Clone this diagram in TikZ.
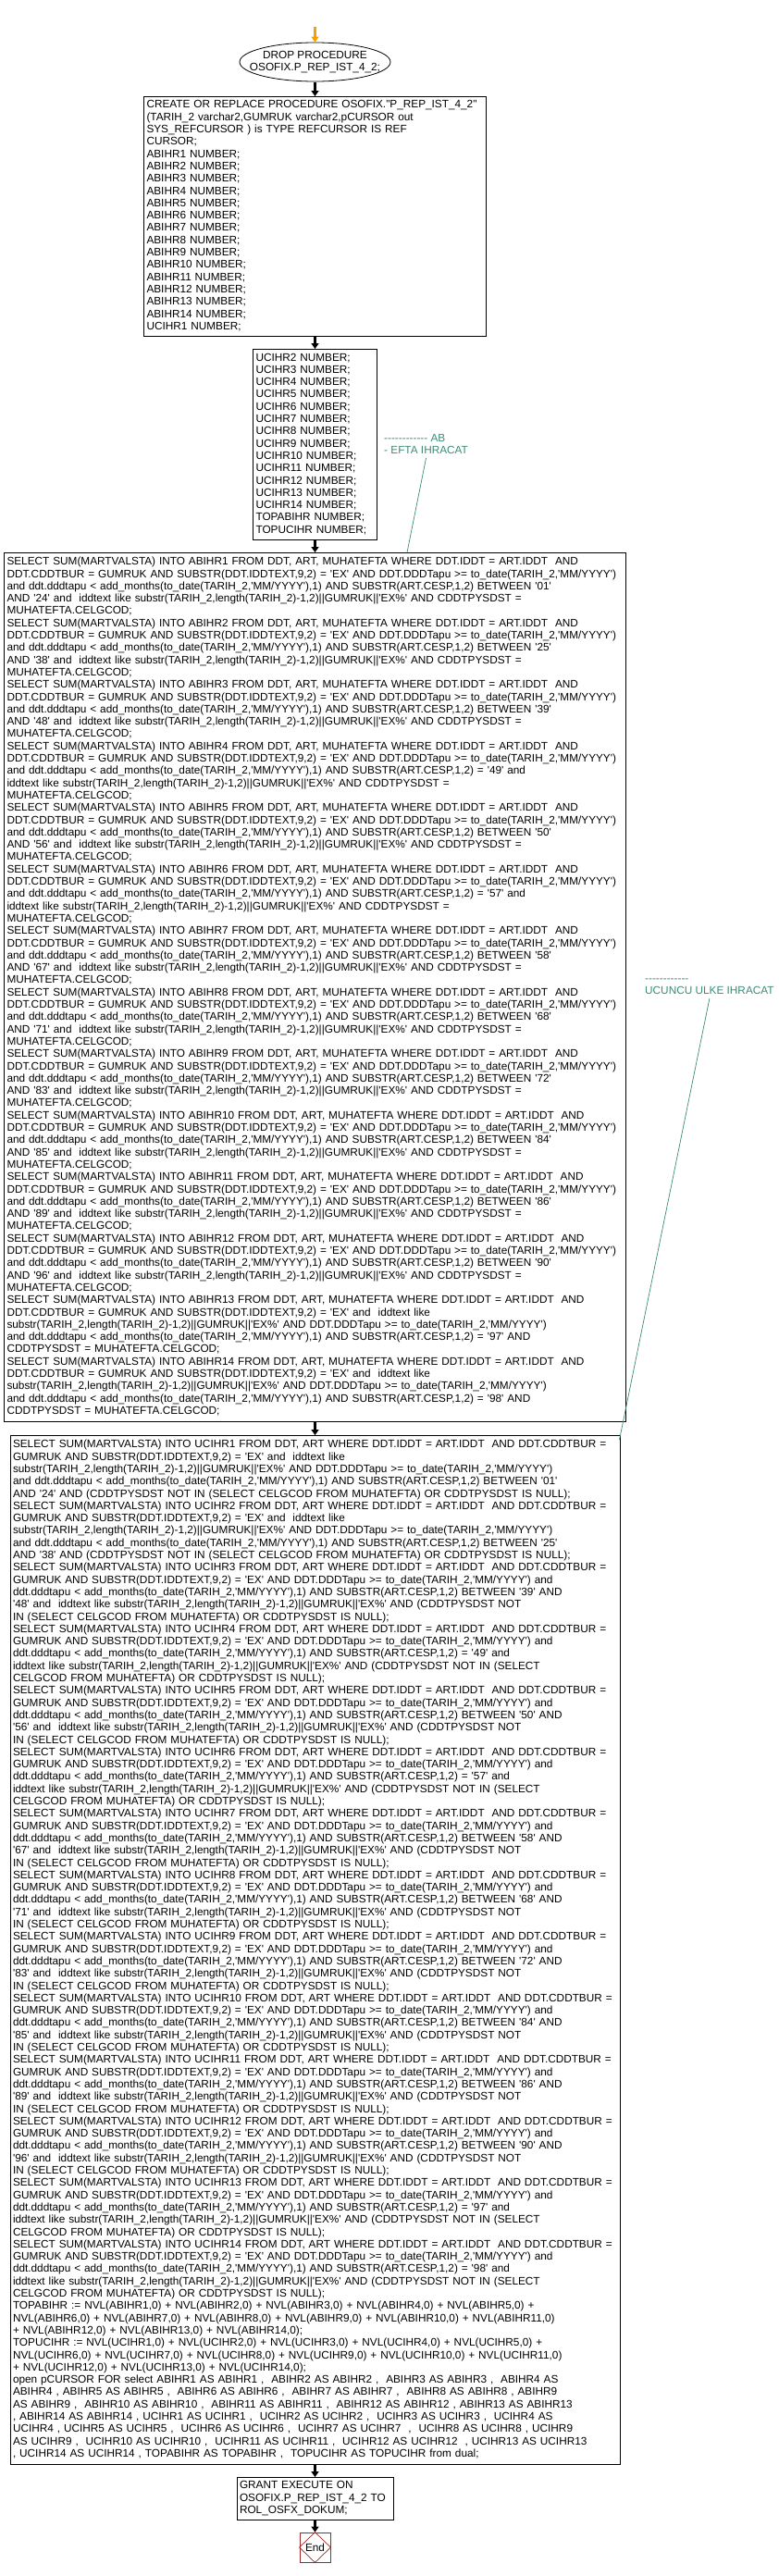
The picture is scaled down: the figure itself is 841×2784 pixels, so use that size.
\documentclass[tikz,border=0pt]{standalone}
\usepackage{fontspec}
\setmainfont{Liberation Sans}[Ligatures=TeXOff]
\usetikzlibrary{arrows.meta,shapes.geometric}
\definecolor{cmtteal}{RGB}{60,140,120}
\definecolor{entryorange}{RGB}{245,160,0}
\definecolor{endred}{RGB}{160,40,40}
\newcommand\codefnt{\fontsize{11.8}{13.3}\selectfont}
% repeated SQL fragments
\newcommand\qTD{to\_date(TARIH\_2,'MM/YYYY')}
\newcommand\qSB{substr(TARIH\_2,length(TARIH\_2)-1,2)||GUMRUK||'EX\%'}
\newcommand\qAM{add\_months(\qTD,1) AND SUBSTR(ART.CESP,1,2)}
\newcommand\qSA[1]{SELECT SUM(MARTVALSTA) INTO ABIHR#1 FROM DDT, ART, MUHATEFTA WHERE DDT.IDDT = ART.IDDT\ \ AND}
\newcommand\qLA{DDT.CDDTBUR = GUMRUK AND SUBSTR(DDT.IDDTEXT,9,2) = 'EX' AND DDT.DDDTapu >= \qTD}
\newcommand\qAR[3]{\qSA{#1}\\\qLA\\and ddt.dddtapu < \qAM\ BETWEEN '#2'\\AND '#3' and\ \ iddtext like \qSB\ AND CDDTPYSDST =\\MUHATEFTA.CELGCOD;}
\newcommand\qAS[2]{\qSA{#1}\\\qLA\\and ddt.dddtapu < \qAM\ = '#2' and\\iddtext like \qSB\ AND CDDTPYSDST =\\MUHATEFTA.CELGCOD;}
\newcommand\qAT[2]{\qSA{#1}\\DDT.CDDTBUR = GUMRUK AND SUBSTR(DDT.IDDTEXT,9,2) = 'EX' and\ \ iddtext like\\\qSB\ AND DDT.DDDTapu >= \qTD\\and ddt.dddtapu < \qAM\ = '#2' AND\\CDDTPYSDST = MUHATEFTA.CELGCOD;}
\newcommand\qSU[1]{SELECT SUM(MARTVALSTA) INTO UCIHR#1 FROM DDT, ART WHERE DDT.IDDT = ART.IDDT\ \ AND DDT.CDDTBUR =}
\newcommand\qNI{(SELECT CELGCOD FROM MUHATEFTA) OR CDDTPYSDST IS NULL);}
\newcommand\qUL{GUMRUK AND SUBSTR(DDT.IDDTEXT,9,2) = 'EX' AND DDT.DDDTapu >= \qTD\ and}
\newcommand\qUX[3]{\qSU{#1}\\GUMRUK AND SUBSTR(DDT.IDDTEXT,9,2) = 'EX' and\ \ iddtext like\\\qSB\ AND DDT.DDDTapu >= \qTD\\and ddt.dddtapu < \qAM\ BETWEEN '#2'\\AND '#3' AND (CDDTPYSDST NOT IN \qNI}
\newcommand\qUY[3]{\qSU{#1}\\\qUL\\ddt.dddtapu < \qAM\ BETWEEN '#2' AND\\'#3' and\ \ iddtext like \qSB\ AND (CDDTPYSDST NOT\\IN \qNI}
\newcommand\qUZ[2]{\qSU{#1}\\\qUL\\ddt.dddtapu < \qAM\ = '#2' and\\iddtext like \qSB\ AND (CDDTPYSDST NOT IN (SELECT\\CELGCOD FROM MUHATEFTA) OR CDDTPYSDST IS NULL);}
\begin{document}
\begin{tikzpicture}[x=1pt,y=-1pt,
  codebox/.style={draw, line width=0.9pt, inner xsep=3pt, inner ysep=0pt, align=left, anchor=north, font=\codefnt},
  flowarrow/.style={line width=3pt, -{Triangle[length=6pt,width=8pt]}, shorten <=0.5pt},
  cmtnote/.style={inner sep=0pt, anchor=north west, align=left, text=cmtteal, font=\codefnt},
  cmtline/.style={draw=cmtteal, line width=0.7pt}]
\useasboundingbox[fill=white] (0,0) rectangle (841,2784);

\coordinate (entry) at (340.5,28);
\node[draw, ellipse, line width=0.8pt, minimum width=163pt, minimum height=42pt, inner sep=0pt] (start) at (340.5,67) {};
\node[font=\codefnt, align=center, inner sep=0pt] (starttxt) at (start.center) {DROP PROCEDURE\\OSOFIX.P\_REP\_IST\_4\_2;};

\node[codebox, text width=364pt, minimum height=259pt] (decl1) at (340.5,104) {\begin{tabular}{@{}l@{}}
CREATE OR REPLACE PROCEDURE OSOFIX."P\_REP\_IST\_4\_2"\\
(TARIH\_2 varchar2,GUMRUK varchar2,pCURSOR out\\
SYS\_REFCURSOR ) is TYPE REFCURSOR IS REF\\
CURSOR;\\
ABIHR1 NUMBER;\\ABIHR2 NUMBER;\\ABIHR3 NUMBER;\\ABIHR4 NUMBER;\\ABIHR5 NUMBER;\\
ABIHR6 NUMBER;\\ABIHR7 NUMBER;\\ABIHR8 NUMBER;\\ABIHR9 NUMBER;\\ABIHR10 NUMBER;\\
ABIHR11 NUMBER;\\ABIHR12 NUMBER;\\ABIHR13 NUMBER;\\ABIHR14 NUMBER;\\UCIHR1 NUMBER;
\end{tabular}};

\node[codebox, text width=128pt, minimum height=206pt] (decl2) at (340.5,377) {\begin{tabular}{@{}l@{}}
UCIHR2 NUMBER;\\UCIHR3 NUMBER;\\UCIHR4 NUMBER;\\UCIHR5 NUMBER;\\UCIHR6 NUMBER;\\
UCIHR7 NUMBER;\\UCIHR8 NUMBER;\\UCIHR9 NUMBER;\\UCIHR10 NUMBER;\\UCIHR11 NUMBER;\\
UCIHR12 NUMBER;\\UCIHR13 NUMBER;\\UCIHR14 NUMBER;\\TOPABIHR NUMBER;\\TOPUCIHR NUMBER;
\end{tabular}};

\node[codebox, text width=666pt, minimum height=939pt] (abbox) at (340.5,597) {\begin{tabular}{@{}l@{}}
\qAR{1}{01}{24}\\\qAR{2}{25}{38}\\\qAR{3}{39}{48}\\\qAS{4}{49}\\\qAR{5}{50}{56}\\
\qAS{6}{57}\\\qAR{7}{58}{67}\\\qAR{8}{68}{71}\\\qAR{9}{72}{83}\\\qAR{10}{84}{85}\\
\qAR{11}{86}{89}\\\qAR{12}{90}{96}\\\qAT{13}{97}\\\qAT{14}{98}
\end{tabular}};

\node[codebox, text width=653pt, minimum height=1112pt] (ucbox) at (340.5,1551) {\begin{tabular}{@{}l@{}}
\qUX{1}{01}{24}\\\qUX{2}{25}{38}\\\qUY{3}{39}{48}\\\qUZ{4}{49}\\\qUY{5}{50}{56}\\
\qUZ{6}{57}\\\qUY{7}{58}{67}\\\qUY{8}{68}{71}\\\qUY{9}{72}{83}\\\qUY{10}{84}{85}\\
\qUY{11}{86}{89}\\\qUY{12}{90}{96}\\\qUZ{13}{97}\\\qUZ{14}{98}\\
TOPABIHR := NVL(ABIHR1,0) + NVL(ABIHR2,0) + NVL(ABIHR3,0) + NVL(ABIHR4,0) + NVL(ABIHR5,0) +\\
NVL(ABIHR6,0) + NVL(ABIHR7,0) + NVL(ABIHR8,0) + NVL(ABIHR9,0) + NVL(ABIHR10,0) + NVL(ABIHR11,0)\\
+ NVL(ABIHR12,0) + NVL(ABIHR13,0) + NVL(ABIHR14,0);\\
TOPUCIHR := NVL(UCIHR1,0) + NVL(UCIHR2,0) + NVL(UCIHR3,0) + NVL(UCIHR4,0) + NVL(UCIHR5,0) +\\
NVL(UCIHR6,0) + NVL(UCIHR7,0) + NVL(UCIHR8,0) + NVL(UCIHR9,0) + NVL(UCIHR10,0) + NVL(UCIHR11,0)\\
+ NVL(UCIHR12,0) + NVL(UCIHR13,0) + NVL(UCIHR14,0);\\
open pCURSOR FOR select ABIHR1 AS ABIHR1 ,\ \ ABIHR2 AS ABIHR2 ,\ \ ABIHR3 AS ABIHR3 ,\ \ ABIHR4 AS\\
ABIHR4 , ABIHR5 AS ABIHR5 ,\ \ ABIHR6 AS ABIHR6 ,\ \ ABIHR7 AS ABIHR7 ,\ \ ABIHR8 AS ABIHR8 , ABIHR9\\
AS ABIHR9 ,\ \ ABIHR10 AS ABIHR10 ,\ \ ABIHR11 AS ABIHR11 ,\ \ ABIHR12 AS ABIHR12 , ABIHR13 AS ABIHR13\\
, ABIHR14 AS ABIHR14 , UCIHR1 AS UCIHR1 ,\ \ UCIHR2 AS UCIHR2 ,\ \ UCIHR3 AS UCIHR3 ,\ \ UCIHR4 AS\\
UCIHR4 , UCIHR5 AS UCIHR5 ,\ \ UCIHR6 AS UCIHR6 ,\ \ UCIHR7 AS UCIHR7\ \ ,\ \ UCIHR8 AS UCIHR8 , UCIHR9\\
AS UCIHR9 ,\ \ UCIHR10 AS UCIHR10 ,\ \ UCIHR11 AS UCIHR11 ,\ \ UCIHR12 AS UCIHR12\ \ , UCIHR13 AS UCIHR13\\
, UCIHR14 AS UCIHR14 , TOPABIHR AS TOPABIHR ,\ \ TOPUCIHR AS TOPUCIHR from dual;
\end{tabular}};

\node[codebox, text width=163pt, minimum height=46pt] (grant) at (340.5,2677) {\begin{tabular}{@{}l@{}}
GRANT EXECUTE ON\\OSOFIX.P\_REP\_IST\_4\_2 TO\\ROL\_OSFX\_DOKUM;
\end{tabular}};

\node[draw=endred, line width=0.8pt, minimum width=33pt, minimum height=32pt, inner sep=0pt, font=\codefnt] (end) at (340.5,2753) {End};
\draw[endred, line width=0.7pt] (end.north) -- (end.east) -- (end.south) -- (end.west) -- cycle;

% comments
\node[cmtnote] (abnote) at (415,468) {\begin{tabular}{@{}l@{}}------------ AB\\- EFTA IHRACAT\end{tabular}};
\node[cmtnote] (ucnote) at (697,1052) {\begin{tabular}{@{}l@{}}------------\\UCUNCU ULKE IHRACAT\end{tabular}};
\coordinate (abhit) at (440,597);
\coordinate (uchit) at (669.5,1556);
\draw[cmtline] (abnote.south) -- (abhit);
\draw[cmtline] (ucnote.south) -- (uchit);

% flow
\draw[flowarrow, draw=entryorange, fill=entryorange] (entry) -- (start.north);
\draw[flowarrow] (start.south) -- (decl1.north);
\draw[flowarrow] (decl1.south) -- (decl2.north);
\draw[flowarrow] (decl2.south) -- (abbox.north);
\draw[flowarrow] (abbox.south) -- (ucbox.north);
\draw[flowarrow] (ucbox.south) -- (grant.north);
\draw[flowarrow] (grant.south) -- (end.north);
\end{tikzpicture}
\end{document}
